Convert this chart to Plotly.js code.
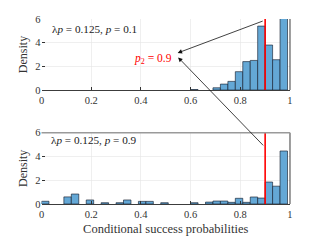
<!DOCTYPE html>
<html>
<head>
<meta charset="utf-8">
<script src="https://cdn.plot.ly/plotly-3.0.1.min.js"></script>
<style>html,body{margin:0;padding:0;background:#fff;}#chart{width:322px;height:242px;}</style>
</head>
<body>
<div id="chart"></div>
<script>
// Histogram bins (left edges) and densities, bin width 0.03
const binWidth = 0.03;
const topBinLeft = [0.60, 0.69, 0.72, 0.75, 0.78, 0.81, 0.84, 0.87, 0.90, 0.93, 0.96];
const topDensity = [0.04, 0.19, 0.50, 0.73, 1.55, 2.40, 2.50, 5.40, 3.80, 2.56, 13.0];
const botBinLeft = [0.00, 0.09, 0.12, 0.18, 0.24, 0.30, 0.33, 0.39, 0.42, 0.48, 0.60, 0.66, 0.69, 0.72, 0.75, 0.78, 0.81, 0.84, 0.87, 0.90, 0.93, 0.96];
const botDensity = [0.23, 0.60, 0.84, 0.34, 0.11, 0.11, 0.34, 0.22, 0.22, 0.11, 0.11, 0.16, 0.25, 0.25, 0.14, 0.48, 0.14, 0.59, 0.50, 1.85, 1.50, 4.46];
const threshold = 0.9;
const xTicks = [0, 0.2, 0.4, 0.6, 0.8, 1];
const xTickText = ['0', '0.2', '0.4', '0.6', '0.8', '1'];
const yTicks = [0, 2, 4, 6];
const topLabel = 'λ<i>p</i> = 0.125, <i>p</i> = 0.1';
const botLabel = 'λ<i>p</i> = 0.125, <i>p</i> = 0.9';
const p2Label = '<i>p</i><sub>2</sub> = 0.9';

const FONT = 'Liberation Serif, DejaVu Serif, serif';
const barFill = 'rgb(100,168,214)';
const barEdge = 'rgba(20,30,45,0.8)';

function barTrace(left, dens, xa, ya) {
  return {
    type: 'bar', x: left, y: dens, width: left.map(() => binWidth), offset: 0,
    xaxis: xa, yaxis: ya, marker: {color: barFill, line: {color: barEdge, width: 0.8}},
    hoverinfo: 'skip', showlegend: false
  };
}
function redLine(xa, ya) {
  return {type: 'scatter', mode: 'lines', x: [threshold, threshold], y: [0, 6],
    xaxis: xa, yaxis: ya, line: {color: 'rgb(255,0,0)', width: 1.6}, hoverinfo: 'skip', showlegend: false};
}

const data = [
  barTrace(topBinLeft, topDensity, 'x', 'y'),
  redLine('x', 'y'),
  barTrace(botBinLeft, botDensity, 'x2', 'y2'),
  redLine('x2', 'y2')
];

const xCommon = {
  range: [0, 1], tickvals: xTicks, ticktext: xTickText, ticks: 'inside', ticklen: 3,
  tickcolor: '#333', showgrid: true, gridcolor: '#e4e4e4', gridwidth: 0.6, zeroline: false,
  showline: true, linecolor: '#3c3c3c', linewidth: 1.3,
  tickfont: {family: FONT, size: 10.5, color: '#333'}, fixedrange: true
};
const yCommon = {
  range: [0, 6], tickvals: yTicks, ticks: 'inside', ticklen: 3, tickcolor: '#333',
  showgrid: true, gridcolor: '#e4e4e4', gridwidth: 0.6, zeroline: false, showline: false,
  tickfont: {family: FONT, size: 10.5, color: '#333'}, fixedrange: true,
  title: {text: 'Density', font: {family: FONT, size: 12, color: '#333'}, standoff: 5}
};

const layout = {
  width: 322, height: 242, margin: {l: 0, r: 0, t: 0, b: 0},
  paper_bgcolor: '#fff', plot_bgcolor: '#fff', bargap: 0,
  xaxis: Object.assign({}, xCommon, {domain: [0.1289, 0.9006], anchor: 'y'}),
  yaxis: Object.assign({}, yCommon, {domain: [0.628, 0.9215], anchor: 'x'}),
  xaxis2: Object.assign({}, xCommon, {domain: [0.1289, 0.9006], anchor: 'y2',
    title: {text: 'Conditional success probabilities', font: {family: FONT, size: 12.5, color: '#333'}, standoff: 5}}),
  yaxis2: Object.assign({}, yCommon, {domain: [0.157, 0.4517], anchor: 'x2'}),
  shapes: [
    {type: 'line', xref: 'x domain', yref: 'y domain', x0: 1, x1: 1, y0: 0, y1: 1, line: {color: '#3c3c3c', width: 1}},
    {type: 'line', xref: 'x2 domain', yref: 'y2 domain', x0: 1, x1: 1, y0: 0, y1: 1, line: {color: '#3c3c3c', width: 1}},
    {type: 'line', xref: 'x2 domain', yref: 'y2 domain', x0: 0, x1: 1, y0: 1, y1: 1, line: {color: '#9a9a9a', width: 1.4}}
  ],
  annotations: [
    {xref: 'x domain', yref: 'y domain', x: 0.035, y: 0.86, xanchor: 'left', yanchor: 'middle',
      text: topLabel, showarrow: false, font: {family: FONT, size: 11.2, color: '#222'}},
    {xref: 'x2 domain', yref: 'y2 domain', x: 0.03, y: 0.9, xanchor: 'left', yanchor: 'middle',
      text: botLabel, showarrow: false, font: {family: FONT, size: 11.2, color: '#222'}},
    {xref: 'x', yref: 'y', x: 0.534, y: 2.66, xanchor: 'right', yanchor: 'middle',
      text: p2Label, showarrow: false, font: {family: FONT, size: 11.5, color: 'rgb(255,0,0)'}},
    {xref: 'x', yref: 'y', x: 0.548, y: 3.13, ax: 88, ay: -33, text: ' ', showarrow: true,
      arrowhead: 2, arrowsize: 1.1, arrowwidth: 0.8, arrowcolor: '#111', standoff: 0, startstandoff: 0},
    {xref: 'x', yref: 'y', x: 0.55, y: 2.75, ax: 88, ay: 91, text: ' ', showarrow: true,
      arrowhead: 2, arrowsize: 1.1, arrowwidth: 0.8, arrowcolor: '#111', standoff: 0, startstandoff: 0}
  ]
};

Plotly.newPlot('chart', data, layout, {displayModeBar: false, staticPlot: true});
</script>
</body>
</html>
